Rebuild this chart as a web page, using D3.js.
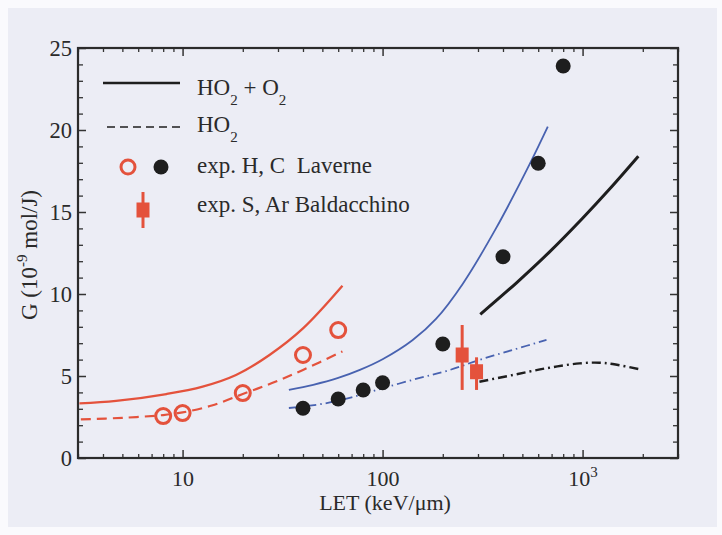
<!DOCTYPE html>
<meta charset="utf-8">
<head>
<title>G(HO2) vs LET</title>
<script src="https://d3js.org/d3.v7.min.js"></script>
<style>
  body { margin: 0; background: #fafafd; }
  text { font-family: "Liberation Serif", "Times New Roman", serif; fill: #2a2a2a; }
</style>
</head>

<div id="chart"></div>

<script>
  // values: LET (keV/um), G (10^-9 mol/J)
  var redSolid = [[3.05,3.33],[4.65,3.48],[8.3,3.9],[12.6,4.35],[18.5,5.06],[27.2,6.28],[40,7.9],[63,10.5]];
  var redDashed = [[3.1,2.35],[5,2.45],[8,2.62],[10,2.78],[14,3.2],[20,3.9],[28,4.57],[40,5.37],[63,6.5]];
  var blueSolid = [[34,4.15],[45,4.46],[60,4.88],[77,5.37],[100,6.02],[141,7.18],[185,8.48],[251,10.6],[369,14.0],[543,17.9],[670,20.2]];
  var blueDashed = [[34,3.05],[50,3.3],[70,3.7],[100,4.25],[150,4.85],[208,5.3],[305,5.98],[450,6.6],[660,7.2]];
  var blackSolid = [[308,8.76],[466,10.67],[684,12.57],[1000,14.62],[1365,16.4],[1900,18.4]];
  var blackDashed = [[305,4.65],[448,5.06],[659,5.47],[966,5.77],[1216,5.81],[1414,5.73],[1928,5.41]];

  var openH = [[8,2.56],[10,2.74],[20,3.96],[40,6.28],[60,7.8]];
  var filledC = [[40,3.03],[60,3.6],[80,4.15],[100,4.59],[200,6.95],[400,12.27],[600,17.97],[800,23.9]];
  // Baldacchino: [LET, G, low, high]
  var squares = [[250,6.28,4.15,8.11],[295,5.26,4.15,6.14]];

  var xMajor = [10, 100, 1000];
  var yMajor = [0, 5, 10, 15, 20, 25];

  var red = "#e4523c", blue = "#4862b0", black = "#1e1e1e";

  var W = 722, H = 535;
  var pLeft = 78, pRight = 678, pTop = 48, pBottom = 458;

  var svg = d3.select("#chart").append("svg")
    .attr("width", W)
    .attr("height", H);

  // scanned page panel
  svg.append("rect")
    .attr("x", 8).attr("y", 8)
    .attr("width", 709).attr("height", 519)
    .attr("fill", "#ecedf5");

  var x = d3.scaleLog().domain([3, 3000]).range([pLeft, pRight]);
  var y = d3.scaleLinear().domain([0, 25]).range([pBottom, pTop]);

  // minor ticks
  var xMinor = [];
  [1, 10, 100, 1000].forEach(function(d) {
    for (var k = 2; k <= 9; k++) {
      var v = d * k;
      if (v >= 3 && v <= 3000) xMinor.push(v);
    }
  });
  var yMinor = d3.range(0, 26).filter(function(d) { return d % 5 != 0; });

  function styleAxis(g, w) {
    g.select(".domain").remove();
    g.selectAll("line").attr("stroke", "#333").attr("stroke-width", w);
  }

  // bottom
  svg.append("g")
    .attr("transform", "translate(0," + pBottom + ")")
    .call(d3.axisBottom(x).tickValues(xMinor).tickSizeInner(-4).tickSizeOuter(0).tickFormat(""))
    .call(styleAxis, 1.3);
  var xAx = svg.append("g")
    .attr("transform", "translate(0," + pBottom + ")")
    .call(d3.axisBottom(x).tickValues(xMajor).tickSizeInner(-8).tickSizeOuter(0).tickPadding(12)
      .tickFormat(function(d) { return d == 1000 ? "10" : d; }))
    .call(styleAxis, 1.5);
  xAx.selectAll("text")
    .style("font-family", "Liberation Serif, serif")
    .style("font-size", "22px")
    .attr("fill", "#2a2a2a");
  xAx.selectAll("text").filter(function(d) { return d == 1000; })
    .append("tspan")
      .attr("dy", "-0.55em")
      .style("font-size", "15px")
      .text("3");

  // top
  svg.append("g")
    .attr("transform", "translate(0," + pTop + ")")
    .call(d3.axisTop(x).tickValues(xMinor).tickSizeInner(-4).tickSizeOuter(0).tickFormat(""))
    .call(styleAxis, 1.3);
  svg.append("g")
    .attr("transform", "translate(0," + pTop + ")")
    .call(d3.axisTop(x).tickValues(xMajor).tickSizeInner(-8).tickSizeOuter(0).tickFormat(""))
    .call(styleAxis, 1.5);

  // left
  svg.append("g")
    .attr("transform", "translate(" + pLeft + ",0)")
    .call(d3.axisLeft(y).tickValues(yMinor).tickSizeInner(-5).tickSizeOuter(0).tickFormat(""))
    .call(styleAxis, 1.3);
  var yAx = svg.append("g")
    .attr("transform", "translate(" + pLeft + ",0)")
    .call(d3.axisLeft(y).tickValues(yMajor).tickSizeInner(-8).tickSizeOuter(0).tickPadding(6))
    .call(styleAxis, 1.5);
  yAx.selectAll("text")
    .style("font-family", "Liberation Serif, serif")
    .style("font-size", "22.5px")
    .attr("fill", "#2a2a2a");

  // right
  svg.append("g")
    .attr("transform", "translate(" + pRight + ",0)")
    .call(d3.axisRight(y).tickValues(yMinor).tickSizeInner(-5).tickSizeOuter(0).tickFormat(""))
    .call(styleAxis, 1.3);
  svg.append("g")
    .attr("transform", "translate(" + pRight + ",0)")
    .call(d3.axisRight(y).tickValues(yMajor).tickSizeInner(-8).tickSizeOuter(0).tickFormat(""))
    .call(styleAxis, 1.5);

  // frame
  svg.append("rect")
    .attr("x", pLeft).attr("y", pTop)
    .attr("width", pRight - pLeft).attr("height", pBottom - pTop)
    .attr("fill", "none")
    .attr("stroke", "#2b2b2b")
    .attr("stroke-width", 2.2);

  // axis titles
  svg.append("text")
    .attr("x", 385)
    .attr("y", 510)
    .attr("text-anchor", "middle")
    .style("font-size", "22px")
    .text("LET (keV/\u03bcm)");

  var yt = svg.append("text")
    .attr("transform", "translate(37,255) rotate(-90)")
    .attr("text-anchor", "middle")
    .style("font-size", "23px");
  yt.append("tspan").text("G (10");
  yt.append("tspan").attr("dy", -10).style("font-size", "15px").text("-9");
  yt.append("tspan").attr("dy", 10).text(" mol/J)");

  // curves
  var line = d3.line()
    .x(function(d) { return x(d[0]); })
    .y(function(d) { return y(d[1]); })
    .curve(d3.curveCatmullRom.alpha(0.5));

  function curve(data, color, width, dash) {
    svg.append("path")
      .datum(data)
      .attr("d", line)
      .attr("fill", "none")
      .attr("stroke", color)
      .attr("stroke-width", width)
      .attr("stroke-dasharray", dash || null);
  }
  curve(redSolid, red, 2.3);
  curve(redDashed, red, 2.2, "10,6");
  curve(blueSolid, blue, 1.8);
  curve(blueDashed, blue, 1.8, "9,4,1.5,4");
  curve(blackSolid, black, 3);
  curve(blackDashed, black, 2.4, "9,4,2,4");

  // Laverne points
  svg.selectAll(".openH")
    .data(openH)
    .enter()
    .append("circle")
      .attr("cx", function(d) { return x(d[0]); })
      .attr("cy", function(d) { return y(d[1]); })
      .attr("r", 7.5)
      .attr("fill", "none")
      .attr("stroke", red)
      .attr("stroke-width", 3);

  svg.selectAll(".filledC")
    .data(filledC)
    .enter()
    .append("circle")
      .attr("cx", function(d) { return x(d[0]); })
      .attr("cy", function(d) { return y(d[1]); })
      .attr("r", 7.5)
      .attr("fill", black);

  // Baldacchino points with error bars
  var sq = svg.selectAll(".sq")
    .data(squares)
    .enter()
    .append("g");
  sq.append("line")
    .attr("x1", function(d) { return x(d[0]); })
    .attr("x2", function(d) { return x(d[0]); })
    .attr("y1", function(d) { return y(d[2]); })
    .attr("y2", function(d) { return y(d[3]); })
    .attr("stroke", red)
    .attr("stroke-width", 3);
  sq.append("rect")
    .attr("x", function(d) { return x(d[0]) - 6.5; })
    .attr("y", function(d) { return y(d[1]) - 7.5; })
    .attr("width", 13)
    .attr("height", 15)
    .attr("fill", red);

  // legend
  var lg = svg.append("g");
  lg.append("line")
    .attr("x1", 103).attr("x2", 180).attr("y1", 83).attr("y2", 83)
    .attr("stroke", black).attr("stroke-width", 2.5);
  lg.append("line")
    .attr("x1", 107).attr("x2", 180).attr("y1", 127).attr("y2", 127)
    .attr("stroke", black).attr("stroke-width", 1.6)
    .attr("stroke-dasharray", "8,5");
  lg.append("circle")
    .attr("cx", 128).attr("cy", 167).attr("r", 7)
    .attr("fill", "none").attr("stroke", red).attr("stroke-width", 3);
  lg.append("circle")
    .attr("cx", 161).attr("cy", 167).attr("r", 7.5)
    .attr("fill", black);
  lg.append("line")
    .attr("x1", 143).attr("x2", 143).attr("y1", 192).attr("y2", 228)
    .attr("stroke", red).attr("stroke-width", 3);
  lg.append("rect")
    .attr("x", 136.5).attr("y", 202.5).attr("width", 13).attr("height", 15)
    .attr("fill", red);

  var t1 = lg.append("text").attr("x", 197).attr("y", 95).style("font-size", "23px");
  t1.append("tspan").text("HO");
  t1.append("tspan").attr("dy", 10).style("font-size", "15px").text("2");
  t1.append("tspan").attr("dy", -10).text(" + O");
  t1.append("tspan").attr("dy", 10).style("font-size", "15px").text("2");

  var t2 = lg.append("text").attr("x", 197).attr("y", 132).style("font-size", "23px");
  t2.append("tspan").text("HO");
  t2.append("tspan").attr("dy", 10).style("font-size", "15px").text("2");

  lg.append("text").attr("x", 197).attr("y", 173)
    .style("font-size", "23px")
    .style("white-space", "pre")
    .text("exp. H, C  Laverne");
  lg.append("text").attr("x", 197).attr("y", 212)
    .style("font-size", "23px")
    .text("exp. S, Ar Baldacchino");
</script>
